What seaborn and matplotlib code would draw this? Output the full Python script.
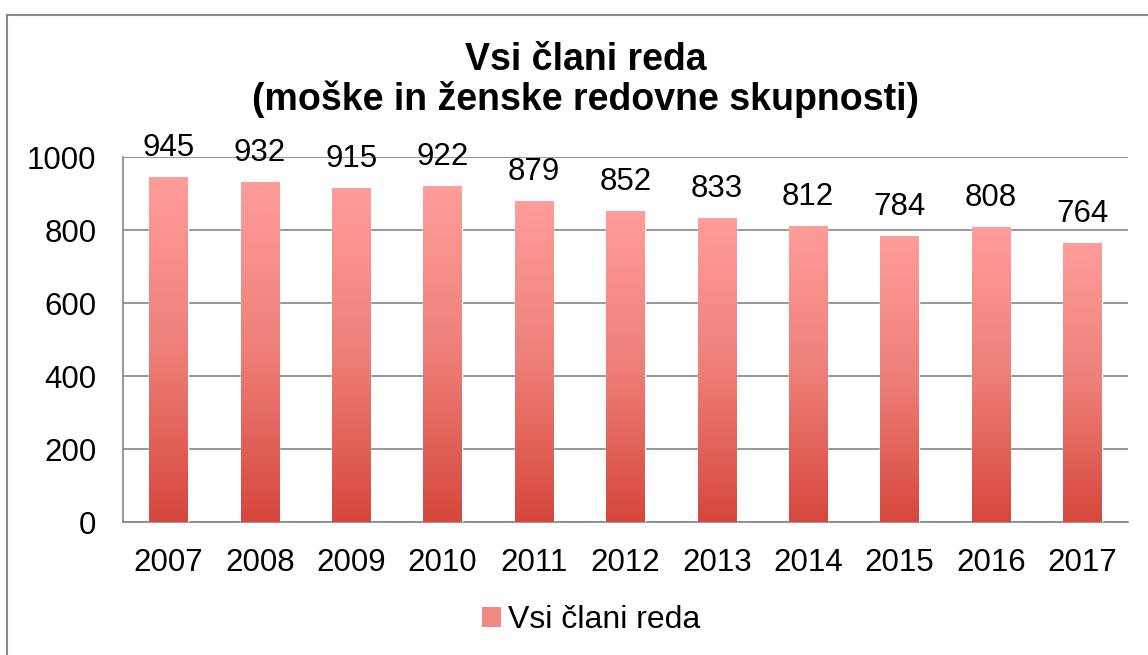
import numpy as np
import pandas as pd
import matplotlib
matplotlib.use('Agg')
import matplotlib.pyplot as plt
import seaborn as sns
from matplotlib.patches import Rectangle, Patch
from matplotlib.colors import LinearSegmentedColormap

# podatki
leta = ['2007', '2008', '2009', '2010', '2011', '2012', '2013', '2014', '2015', '2016', '2017']
clani = [945, 932, 915, 922, 879, 852, 833, 812, 784, 808, 764]
naslov = 'Vsi člani reda\n(moške in ženske redovne skupnosti)'
serija = 'Vsi člani reda'

df = pd.DataFrame({'leto': leta, 'clani': clani})

sns.set_style('white')
plt.rcParams['font.family'] = ['Liberation Sans', 'DejaVu Sans']
plt.rcParams['text.color'] = 'black'
plt.rcParams['xtick.labelcolor'] = 'black'
plt.rcParams['ytick.labelcolor'] = 'black'

fig = plt.figure(figsize=(11.48, 6.55), dpi=100)
ax = fig.add_axes([0.107, 0.203, 0.8756, 0.557])

sns.barplot(data=df, x='leto', y='clani', color='#F08A85', width=0.42, ax=ax, zorder=3)

# gradient na vsakem stolpcu (svetlo zgoraj, temno spodaj)
cmap = LinearSegmentedColormap.from_list('grad', ['#D6473D', '#EE7F78', '#FF9D9A'])
grad = np.linspace(0, 1, 256).reshape(-1, 1)
for p in ax.patches:
    x0, y0 = p.get_x(), p.get_y()
    w, h = p.get_width(), p.get_height()
    im = ax.imshow(grad, cmap=cmap, origin='lower', aspect='auto',
                   extent=[x0, x0 + w, y0, y0 + h], zorder=4)
    im.set_clip_path(p)
    ax.text(x0 + w / 2, y0 + h + 38, f'{int(h)}', ha='center', va='bottom',
            fontsize=22.5, color='black', clip_on=False)

ax.set_xlim(-0.5, len(leta) - 0.5)
ax.set_ylim(0, 1000)
ax.set_yticks(range(0, 1001, 200))
ax.yaxis.grid(True, color='#868686', linewidth=1.2, zorder=0)
ax.set_axisbelow(True)
ax.set_xlabel('')
ax.set_ylabel('')

for s in ['top', 'right']:
    ax.spines[s].set_visible(False)
for s in ['left', 'bottom']:
    ax.spines[s].set_color('#868686')
    ax.spines[s].set_linewidth(1.2)

ax.tick_params(axis='y', length=7, width=1.2, color='#868686', labelsize=22.5, pad=12)
ax.tick_params(axis='x', which='major', length=0, labelsize=22.5, pad=19)
ax.set_xticks(np.arange(-0.5, len(leta), 1), minor=True)
ax.tick_params(axis='x', which='minor', length=7, width=1.2, color='#868686')

fig.text(0.51, 0.878, naslov, ha='center', va='center', fontsize=27,
         fontweight='bold', linespacing=1.1)

leg_handle = Patch(facecolor='#F08A85', edgecolor='none')
fig.legend([leg_handle], [serija], loc='center', bbox_to_anchor=(0.515, 0.053),
           frameon=False, fontsize=23, handlelength=0.6, handleheight=0.6,
           handletextpad=0.2)

# okvir grafikona
fig.patches.append(Rectangle((0.006, -0.1), 1.2, 1.077, transform=fig.transFigure,
                             fill=False, edgecolor='#8a8a8a', linewidth=1.5))

fig.savefig('out.png', dpi=100)
